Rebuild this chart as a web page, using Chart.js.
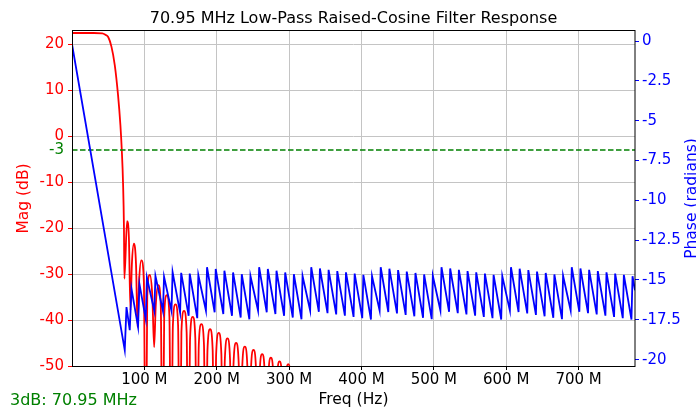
<!DOCTYPE html>
<html>
<head>
<meta charset="utf-8">
<script src="https://cdn.jsdelivr.net/npm/chart.js@4.4.1/dist/chart.umd.min.js"></script>
<style>
  body { margin: 0; background: #fff; }
  #wrap { width: 696px; height: 414px; }
</style>
</head>
<body>
<div id="wrap"><canvas id="chartOne" width="696" height="414"></canvas></div>
<script>
// magnitude response (MHz, dB): passband, roll-off, then sidelobes
let magFreq = [0, 30, 42, 46, 50, 54.5, 59.1, 63.6, 66.9, 68.8, 70.5, 71.8, 72.4,
    76.1, 78.6, 80.8,
    82.7, 85.6, 88.5, 90.6,
    92.7, 95.8, 99.3, 101.8,
    104.0, 107.5, 111.0, 113.5,
    115.7, 119.2, 122.7, 125.2,
    127.4, 131.0, 134.6, 137.0,
    139.4, 143.0, 146.6, 149.0,
    151.2, 154.8, 158.4, 160.8,
    163.2, 166.8, 170.4, 172.8,
    175.2, 178.8, 182.4, 184.8,
    187.2, 190.8, 194.4, 196.8,
    199.2, 202.8, 206.4, 208.8,
    211.2, 214.8, 218.4, 220.8,
    223.2, 226.8, 230.4, 232.8,
    235.2, 238.8, 242.4, 244.8,
    247.2, 250.8, 254.4, 256.8,
    259.2, 262.8, 266.4, 268.8,
    271.2, 274.8, 278.4, 280.8,
    283.2, 286.8, 290.4, 292.8,
    295.2, 298.8, 302.4, 304.8,
    778];
let magDb = [22.46, 22.46, 22.4, 22.1, 21.6, 19.5, 15.5, 9.0, 2.4, -3, -10, -20, -31,
    -18.5, -22, -37.9,
    -28, -23.4, -28, -41.5,
    -31.6, -27.0, -31.6, -80,
    -34.8, -30.2, -34.8, -45.9,
    -37, -32.4, -37, -80,
    -39.2, -34.6, -39.2, -80,
    -41.2, -36.6, -41.2, -80,
    -42.6, -38, -42.6, -80,
    -43.9, -39.3, -43.9, -80,
    -45.5, -40.9, -45.5, -80,
    -46.6, -42, -46.6, -80,
    -47.4, -42.8, -47.4, -80,
    -48.6, -44, -48.6, -80,
    -49.6, -45, -49.6, -80,
    -50.4, -45.8, -50.4, -80,
    -51.1, -46.5, -51.1, -80,
    -52, -47.4, -52, -80,
    -52.8, -48.2, -52.8, -80,
    -53.6, -49, -53.6, -80,
    -54.2, -49.6, -54.2, -80,
    -90];

// phase response (MHz, radians)
let phaseFreq = [0, 72.9, 75.3, 79.8, 82.2, 91.3, 93.2, 101.9, 103.5,
    113.8, 115.3, 125.7, 127.2, 137.5, 139.0, 149.4, 150.9, 161.2, 162.7, 173.1, 174.6,
    185.1, 186.6, 197.1, 198.6, 209.1, 210.6, 221.1, 222.6, 233.1, 234.6, 245.1, 246.6,
    257.1, 258.6, 269.1, 270.6, 281.1, 282.6, 293.1, 294.6, 305.1, 306.6, 317.1, 318.6,
    329.1, 330.6, 341.1, 342.6, 353.1, 354.6, 365.1, 366.6, 377.1, 378.6, 389.1, 390.6, 401.1, 402.6, 413.1, 414.6,
    425.1, 426.6, 437.1, 438.6, 449.1, 450.6, 461.1, 462.6, 473.1, 474.6, 485.1, 486.6, 497.1, 498.6,
    509.1, 510.6, 521.1, 522.6, 533.1, 534.6, 545.1, 546.6, 557.1, 558.6, 569.1, 570.6, 581.1, 582.6, 593.1, 594.6,
    605.1, 606.6, 617.1, 618.6, 629.1, 630.6, 641.1, 642.6, 653.1, 654.6, 665.1, 666.6, 677.1, 678.6,
    689.1, 690.6, 701.1, 702.6, 713.1, 714.6, 725.1, 726.6, 737.1, 738.6, 749.1, 750.6, 761.1, 762.6, 773.1, 774.6,
    778];
let phaseRad = [-0.2, -19.4, -16.7, -18.15, -15.55, -17.95, -15.25, -17.45, -14.85,
    -16.95, -14.75, -16.95, -14.8, -16.95, -14.5, -17.05, -14.55, -17.25, -14.6, -17.4, -14.7,
    -16.92, -14.2, -17.03, -14.31, -17.14, -14.42, -17.25, -14.53, -17.36, -14.64, -17.47, -14.75,
    -16.92, -14.2, -17.03, -14.31, -17.14, -14.42, -17.25, -14.53, -17.36, -14.64, -17.47, -14.75,
    -16.92, -14.2, -17.0, -14.28, -17.08, -14.36, -17.16, -14.44, -17.24, -14.52, -17.32, -14.6, -17.4, -14.68, -17.48, -14.76,
    -16.92, -14.2, -17.01, -14.29, -17.1, -14.38, -17.19, -14.47, -17.28, -14.56, -17.37, -14.65, -17.46, -14.74,
    -16.92, -14.2, -17.0, -14.28, -17.08, -14.36, -17.16, -14.44, -17.24, -14.52, -17.32, -14.6, -17.4, -14.68, -17.48, -14.76,
    -16.92, -14.2, -17.01, -14.29, -17.1, -14.38, -17.19, -14.47, -17.28, -14.56, -17.37, -14.65, -17.46, -14.74,
    -16.92, -14.2, -17.0, -14.28, -17.08, -14.36, -17.16, -14.44, -17.24, -14.52, -17.32, -14.6, -17.4, -14.68, -17.48, -14.76,
    -15.65];

let cutoffDb = -3;
let freqRange = [0, 778];
let xTicks = [100, 200, 300, 400, 500, 600, 700];
let magTicks = [-50, -40, -30, -20, -10, -3, 0, 10, 20];
let phaseTicks = [-20, -17.5, -15, -12.5, -10, -7.5, -5, -2.5, 0];

const FONT = "'DejaVu Sans', sans-serif";
const RED = '#ff0000';
const BLUE = '#0000ff';
const GREEN = '#008000';
const GRID = '#c4c4c4';

let magPts = magFreq.map((f, i) => ({ x: f, y: magDb[i] }));
let phasePts = phaseFreq.map((f, i) => ({ x: f, y: phaseRad[i] }));

// frame + extra labels that chart.js can't place by itself
const extras = {
    id: 'extras',
    afterDraw(chart) {
        const ctx = chart.ctx;
        const a = chart.chartArea;
        ctx.save();
        ctx.strokeStyle = '#000';
        ctx.lineWidth = 1;
        ctx.strokeRect(a.left + 0.5, a.top - 0.5, a.right - a.left - 0.5, a.bottom - a.top + 1);

        ctx.fillStyle = GREEN;
        ctx.font = '16px ' + FONT;
        ctx.textAlign = 'left';
        ctx.textBaseline = 'alphabetic';
        ctx.fillText('3dB: 70.95 MHz', 10, 405);

        // right axis title reads bottom-to-top like the left one
        ctx.translate(692, (a.top + a.bottom) / 2);
        ctx.rotate(-Math.PI / 2);
        ctx.fillStyle = BLUE;
        ctx.font = '15.5px ' + FONT;
        ctx.textAlign = 'center';
        ctx.textBaseline = 'middle';
        ctx.fillText('Phase (radians)', 0, 0);
        ctx.restore();
    }
};

var ctxOne = document.getElementById('chartOne').getContext('2d');
var chartOne = new Chart(ctxOne, {
    type: 'line',
    data: {
        datasets: [{
            label: 'Phase',
            data: phasePts,
            yAxisID: 'yPhase',
            borderColor: BLUE,
            borderWidth: 1.8,
            pointRadius: 0,
            tension: 0,
            order: 0
        }, {
            label: '-3 dB',
            data: [{ x: freqRange[0], y: cutoffDb }, { x: freqRange[1], y: cutoffDb }],
            yAxisID: 'yMag',
            borderColor: GREEN,
            borderWidth: 1.6,
            borderDash: [5.5, 2.5],
            pointRadius: 0,
            order: 1
        }, {
            label: 'Mag',
            data: magPts,
            yAxisID: 'yMag',
            borderColor: RED,
            borderWidth: 1.8,
            pointRadius: 0,
            cubicInterpolationMode: 'monotone',
            order: 2
        }]
    },
    options: {
        responsive: false,
        animation: false,
        devicePixelRatio: 1,
        layout: { padding: 0 },
        plugins: {
            legend: { display: false },
            tooltip: { enabled: false },
            title: {
                display: true,
                fullSize: false,
                text: '70.95 MHz Low-Pass Raised-Cosine Filter Response',
                color: '#000',
                font: { family: FONT, size: 16, weight: 'normal' },
                padding: { top: 9.4, bottom: 2.4 }
            }
        },
        scales: {
            x: {
                type: 'linear',
                position: 'bottom',
                min: freqRange[0],
                max: freqRange[1],
                afterBuildTicks: s => { s.ticks = xTicks.map(v => ({ value: v })); },
                afterFit: s => { s.height = 48; },
                border: { display: false },
                grid: { color: GRID, lineWidth: 1, tickColor: '#000', tickLength: 4 },
                ticks: {
                    color: '#000',
                    font: { family: FONT, size: 15 },
                    padding: 1,
                    maxRotation: 0,
                    autoSkip: false,
                    callback: v => v + ' M'
                },
                title: {
                    display: true,
                    text: 'Freq (Hz)',
                    color: '#000',
                    font: { family: FONT, size: 15.5 },
                    padding: { top: 0, bottom: 5 }
                }
            },
            yMag: {
                type: 'linear',
                position: 'left',
                min: -50,
                max: 22.9,
                afterBuildTicks: s => { s.ticks = magTicks.map(v => ({ value: v })); },
                afterFit: s => { s.width = 72; },
                border: { display: false },
                grid: {
                    color: c => (c.tick && c.tick.value === cutoffDb) ? 'rgba(0,0,0,0)' : GRID,
                    tickColor: c => (c.tick && c.tick.value === cutoffDb) ? 'rgba(0,0,0,0)' : RED,
                    tickLength: 4
                },
                ticks: {
                    color: c => (c.tick && c.tick.value === cutoffDb) ? GREEN : RED,
                    font: { family: FONT, size: 15 },
                    padding: 4,
                    autoSkip: false,
                    callback: v => String(v)
                },
                title: {
                    display: true,
                    text: 'Mag (dB)',
                    color: RED,
                    font: { family: FONT, size: 15.5 },
                    padding: { top: 14.7, bottom: 0 }
                }
            },
            yPhase: {
                type: 'linear',
                position: 'right',
                min: -20.4,
                max: 0.63,
                afterBuildTicks: s => { s.ticks = phaseTicks.map(v => ({ value: v })); },
                afterFit: s => { s.width = 61; },
                border: { display: false },
                grid: { drawOnChartArea: false, tickColor: BLUE, tickLength: 4 },
                ticks: {
                    color: BLUE,
                    font: { family: FONT, size: 15 },
                    padding: 3,
                    autoSkip: false,
                    callback: v => String(v)
                }
            }
        }
    },
    plugins: [extras]
});
</script>
</body>
</html>
